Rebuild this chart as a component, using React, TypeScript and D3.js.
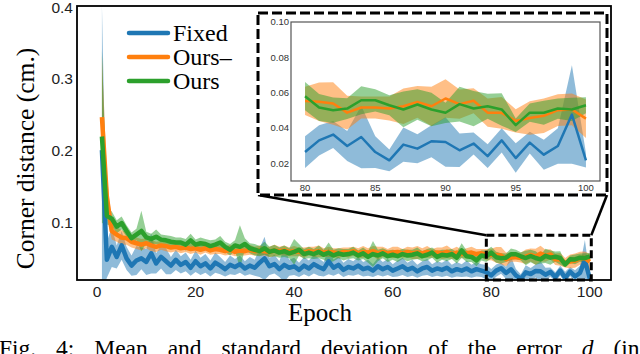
import React from "react";
import * as d3 from "d3";

// epochs 1..100
const epochs: number[] = Array.from({ length: 100 }, (_, i) => i + 1);

const fixedMean = [
  0.2, 0.048, 0.066, 0.052, 0.068, 0.05, 0.04, 0.047, 0.05, 0.045,
  0.057, 0.043, 0.052, 0.046, 0.04, 0.048, 0.041, 0.045, 0.037, 0.046,
  0.039, 0.043, 0.036, 0.044, 0.04, 0.035, 0.041, 0.038, 0.042, 0.036,
  0.04, 0.037, 0.044, 0.05, 0.039, 0.042, 0.035, 0.041, 0.037, 0.039,
  0.034, 0.04, 0.036, 0.042, 0.038, 0.035, 0.046, 0.037, 0.041, 0.034,
  0.038, 0.036, 0.04, 0.035, 0.037, 0.033, 0.039, 0.035, 0.038, 0.033,
  0.036, 0.039, 0.034, 0.037, 0.032, 0.036, 0.038, 0.033, 0.036, 0.034,
  0.037, 0.032, 0.035, 0.033, 0.036, 0.032, 0.035, 0.033, 0.031,
  0.0264, 0.033, 0.0363, 0.0298, 0.0349, 0.0264, 0.0217, 0.0306, 0.0283, 0.0325,
  0.0321, 0.0274, 0.0312, 0.0241, 0.033, 0.023, 0.0317, 0.0249, 0.0298, 0.0476, 0.0217,
];
const fixedStd = [
  0.2, 0.025, 0.028, 0.016, 0.02, 0.016, 0.014, 0.02, 0.015, 0.018,
  0.028, 0.014, 0.016, 0.018, 0.012, 0.014, 0.012, 0.013, 0.011, 0.015,
  0.012, 0.013, 0.011, 0.014, 0.012, 0.01, 0.013, 0.011, 0.012, 0.01,
  0.012, 0.011, 0.02, 0.03, 0.012, 0.013, 0.011, 0.024, 0.011, 0.012,
  0.01, 0.012, 0.011, 0.013, 0.012, 0.01, 0.018, 0.011, 0.012, 0.01,
  0.011, 0.01, 0.012, 0.01, 0.011, 0.009, 0.012, 0.01, 0.011, 0.009,
  0.011, 0.012, 0.01, 0.011, 0.009, 0.01, 0.011, 0.009, 0.01, 0.01,
  0.011, 0.009, 0.01, 0.009, 0.011, 0.009, 0.01, 0.009, 0.01,
  0.009, 0.0085, 0.0076, 0.0085, 0.0177, 0.009, 0.0062, 0.0097, 0.0082, 0.009,
  0.014, 0.0095, 0.0062, 0.0067, 0.0069, 0.0083, 0.0062, 0.0085, 0.01, 0.0279, 0.004,
];

const oursMinusMean = [
  0.246, 0.135, 0.088, 0.083, 0.079, 0.078, 0.073, 0.071, 0.069, 0.071,
  0.068, 0.066, 0.068, 0.067, 0.065, 0.066, 0.064, 0.065, 0.063, 0.064,
  0.062, 0.064, 0.061, 0.063, 0.062, 0.06, 0.062, 0.059, 0.061, 0.06,
  0.062, 0.06, 0.061, 0.06, 0.059, 0.061, 0.06, 0.061, 0.059, 0.06,
  0.059, 0.058, 0.06, 0.059, 0.06, 0.058, 0.059, 0.058, 0.057, 0.059,
  0.058, 0.06, 0.057, 0.059, 0.058, 0.06, 0.057, 0.059, 0.057, 0.058,
  0.059, 0.057, 0.059, 0.057, 0.058, 0.057, 0.059, 0.057, 0.058, 0.057,
  0.059, 0.056, 0.058, 0.056, 0.057, 0.058, 0.056, 0.057, 0.055,
  0.0553, 0.0548, 0.0539, 0.0487, 0.0516, 0.0516, 0.051, 0.0523, 0.0548, 0.0523,
  0.0567, 0.0535, 0.0554, 0.0487, 0.0486, 0.044, 0.0457, 0.0469, 0.0501, 0.0505, 0.0453,
];
const oursMinusStd = [
  0.085, 0.03, 0.012, 0.01, 0.01, 0.009, 0.008, 0.008, 0.008, 0.007,
  0.008, 0.007, 0.006, 0.007, 0.007, 0.006, 0.007, 0.006, 0.007, 0.006,
  0.007, 0.006, 0.006, 0.007, 0.006, 0.006, 0.007, 0.006, 0.007, 0.006,
  0.007, 0.006, 0.007, 0.006, 0.007, 0.008, 0.006, 0.007, 0.006, 0.007,
  0.006, 0.007, 0.006, 0.007, 0.008, 0.006, 0.007, 0.006, 0.007, 0.006,
  0.007, 0.006, 0.007, 0.008, 0.006, 0.007, 0.009, 0.007, 0.006, 0.008,
  0.007, 0.006, 0.007, 0.008, 0.009, 0.007, 0.008, 0.006, 0.007, 0.008,
  0.009, 0.007, 0.008, 0.006, 0.007, 0.008, 0.007, 0.006, 0.008,
  0.008, 0.0109, 0.012, 0.0095, 0.0062, 0.0062, 0.0068, 0.01, 0.009, 0.0111,
  0.0109, 0.0083, 0.0071, 0.008, 0.009, 0.0066, 0.0095, 0.0098, 0.009, 0.009, 0.0109,
];

const oursMean = [
  0.219, 0.109, 0.105, 0.094, 0.099, 0.088, 0.078, 0.083, 0.088, 0.079,
  0.077, 0.08, 0.076, 0.075, 0.073, 0.072, 0.072, 0.069, 0.075, 0.069,
  0.071, 0.07, 0.067, 0.069, 0.072, 0.066, 0.062, 0.068, 0.066, 0.07,
  0.064, 0.062, 0.06, 0.064, 0.059, 0.061, 0.058, 0.06, 0.057, 0.059,
  0.062, 0.056, 0.058, 0.056, 0.059, 0.055, 0.058, 0.054, 0.057, 0.055,
  0.056, 0.058, 0.054, 0.057, 0.052, 0.056, 0.054, 0.057, 0.053, 0.055,
  0.053, 0.056, 0.054, 0.055, 0.057, 0.053, 0.055, 0.058, 0.052, 0.055,
  0.054, 0.056, 0.051, 0.061, 0.053, 0.052, 0.047, 0.054, 0.053,
  0.058, 0.0516, 0.0501, 0.051, 0.0557, 0.0557, 0.0529, 0.0505, 0.0533, 0.0505,
  0.0486, 0.0535, 0.051, 0.0523, 0.0505, 0.0416, 0.0487, 0.0486, 0.051, 0.0505, 0.0529,
];
const oursStd = [
  0.12, 0.012, 0.01, 0.009, 0.009, 0.008, 0.008, 0.008, 0.028, 0.008,
  0.007, 0.01, 0.007, 0.007, 0.008, 0.007, 0.007, 0.008, 0.009, 0.007,
  0.008, 0.007, 0.008, 0.007, 0.009, 0.007, 0.008, 0.007, 0.03, 0.008,
  0.007, 0.008, 0.007, 0.009, 0.007, 0.008, 0.007, 0.008, 0.007, 0.018,
  0.008, 0.007, 0.008, 0.007, 0.009, 0.007, 0.014, 0.008, 0.007, 0.008,
  0.007, 0.008, 0.007, 0.008, 0.008, 0.018, 0.008, 0.007, 0.008, 0.007,
  0.008, 0.007, 0.008, 0.007, 0.008, 0.007, 0.008, 0.007, 0.008, 0.007,
  0.008, 0.007, 0.008, 0.01, 0.008, 0.007, 0.008, 0.007, 0.008,
  0.008, 0.0076, 0.0071, 0.0059, 0.0079, 0.0063, 0.0057, 0.0101, 0.0086, 0.0095,
  0.0057, 0.0098, 0.01, 0.0071, 0.0092, 0.0038, 0.0052, 0.0068, 0.0057, 0.0066, 0.0045,
];

const seriesNames = ["Fixed", "Ours\u2013", "Ours"];
const seriesColors = ["#1f77b4", "#ff7f0e", "#2ca02c"];

const mainXTicks = [0, 20, 40, 60, 80, 100];
const mainYTicks = [0.1, 0.2, 0.3, 0.4];
const insetXTicks = [80, 85, 90, 95, 100];
const insetYTicks = [0.02, 0.04, 0.06, 0.08, 0.1];

const W = 640;
const H = 354;

type Pt = { e: number; m: number; s: number };

export default function App() {
  const series = [
    { means: fixedMean, stds: fixedStd },
    { means: oursMinusMean, stds: oursMinusStd },
    { means: oursMean, stds: oursStd },
  ].map((s, k) => ({
    name: seriesNames[k],
    color: seriesColors[k],
    pts: epochs.map((e, i) => ({ e, m: s.means[i], s: s.stds[i] })) as Pt[],
  }));

  // main axes
  const x = d3.scaleLinear().domain([-4.06, 104.3]).range([77, 611]);
  const y = d3.scaleLinear().domain([0.02, 0.4]).range([280, 6]);

  // inset axes
  const ix = d3.scaleLinear().domain([79, 101]).range([291, 600]);
  const iy = d3.scaleLinear().domain([0.01, 0.1]).range([181, 22]);

  const mkArea = (sx, sy) =>
    d3
      .area<Pt>()
      .x((d) => sx(d.e))
      .y0((d) => sy(d.m - d.s))
      .y1((d) => sy(d.m + d.s));
  const mkLine = (sx, sy) =>
    d3
      .line<Pt>()
      .x((d) => sx(d.e))
      .y((d) => sy(d.m));

  const mainArea = mkArea(x, y);
  const mainLine = mkLine(x, y);
  const insArea = mkArea(ix, iy);
  const insLine = mkLine(ix, iy);

  // zoom region in main axes
  const zx0 = x(79);
  const zx1 = x(100.3);
  const zy0 = y(0.082);
  const zy1 = y(0.02);

  // dashed box around inset
  const bL = ix.range()[0] - 33;
  const bR = ix.range()[1] + 7;
  const bT = iy.range()[1] - 9;
  const bB = iy.range()[0] + 14;

  const serif = "'Liberation Serif', 'Times New Roman', serif";
  const sans = "'Liberation Sans', Arial, sans-serif";

  return (
    <svg
      width={W}
      height={H}
      style={{ position: "absolute", left: 0, top: 0, background: "#fff" }}
    >
      <defs>
        <clipPath id="mainClip">
          <rect x={77} y={6} width={534} height={274} />
        </clipPath>
        <clipPath id="insClip">
          <rect x={291} y={22} width={309} height={159} />
        </clipPath>
      </defs>
      <rect width={W} height={H} fill="#fff" />

      {/* main data */}
      <g clipPath="url(#mainClip)">
        {series.map((s) => (
          <path key={s.name + "a"} d={mainArea(s.pts)} fill={s.color} fillOpacity={0.5} />
        ))}
        {series.map((s) => (
          <path
            key={s.name + "l"}
            d={mainLine(s.pts)}
            fill="none"
            stroke={s.color}
            strokeWidth={4.5}
            strokeLinejoin="round"
          />
        ))}
      </g>
      <rect x={77} y={6} width={534} height={274} fill="none" stroke="#000" strokeWidth={1.8} />

      {mainYTicks.map((t) => (
        <text key={t} x={73} y={Math.max(y(t), 7.5)} dy="0.35em" textAnchor="end" fontFamily={sans} fontSize={15.5} fill="#222">
          {t.toFixed(1)}
        </text>
      ))}
      {mainXTicks.map((t) => (
        <text key={t} x={x(t)} y={292} dy="0.35em" textAnchor="middle" fontFamily={sans} fontSize={15.5} fill="#222">
          {t}
        </text>
      ))}

      <text x={320} y={321} textAnchor="middle" fontFamily={serif} fontSize={25}>
        Epoch
      </text>
      <text
        transform={`translate(34,158.5) rotate(-90)`}
        textAnchor="middle"
        fontFamily={serif}
        fontSize={25.5}
      >
        Corner distance (cm.)
      </text>

      {/* legend */}
      {series.map((s, k) => (
        <g key={s.name} transform={`translate(129,${33 + k * 24})`}>
          <line x1={0} x2={39} y1={0} y2={0} stroke={s.color} strokeWidth={4.5} strokeLinecap="round" />
          <text x={44} y={0} dy="0.33em" fontFamily={serif} fontSize={24}>
            {s.name}
          </text>
        </g>
      ))}

      {/* zoom marker and connectors */}
      <rect
        x={zx0}
        y={zy0}
        width={zx1 - zx0}
        height={zy1 - zy0}
        fill="none"
        stroke="#000"
        strokeWidth={3}
        strokeDasharray="8,4"
      />
      <line x1={bL} y1={bB} x2={zx0} y2={zy0} stroke="#000" strokeWidth={2.5} />
      <line x1={bR} y1={bB} x2={zx1} y2={zy0} stroke="#000" strokeWidth={2.5} />

      {/* inset */}
      <rect x={bL} y={bT} width={bR - bL} height={bB - bT} fill="#fff" stroke="#000" strokeWidth={3} strokeDasharray="10,4" />
      <g clipPath="url(#insClip)">
        {series.map((s) => (
          <path key={s.name + "ia"} d={insArea(s.pts.filter((p) => p.e >= 80))} fill={s.color} fillOpacity={0.5} />
        ))}
        {series.map((s) => (
          <path
            key={s.name + "il"}
            d={insLine(s.pts.filter((p) => p.e >= 80))}
            fill="none"
            stroke={s.color}
            strokeWidth={2.5}
            strokeLinejoin="round"
          />
        ))}
      </g>
      <rect x={291} y={22} width={309} height={159} fill="none" stroke="#555" strokeWidth={1.2} />
      {insetYTicks.map((t) => (
        <text key={t} x={289} y={iy(t)} dy="0.35em" textAnchor="end" fontFamily={sans} fontSize={9.5} fill="#333">
          {t.toFixed(2)}
        </text>
      ))}
      {insetXTicks.map((t) => (
        <text key={t} x={ix(t)} y={187.5} dy="0.35em" textAnchor="middle" fontFamily={sans} fontSize={9.5} fill="#333">
          {t}
        </text>
      ))}

      {/* caption (cut by the frame) */}
      <text x={-1} y={356} fontFamily={serif} fontSize={23.5} wordSpacing={14}>
        Fig. 4: Mean and standard deviation of the error{" "}
        <tspan fontStyle="italic">d</tspan> (in
      </text>
    </svg>
  );
}
